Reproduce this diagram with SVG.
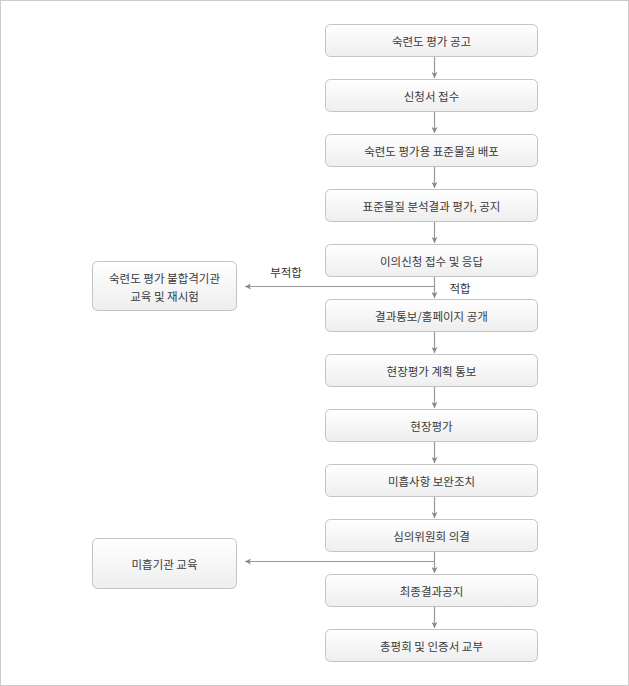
<svg xmlns="http://www.w3.org/2000/svg" width="629" height="686" viewBox="0 0 629 686">
<defs>
<linearGradient id="g" x1="0" y1="0" x2="0" y2="1">
<stop offset="0" stop-color="#ffffff"/>
<stop offset="1" stop-color="#eeeeee"/>
</linearGradient>
<marker id="ah" viewBox="0 0 8 8" refX="8" refY="4" markerWidth="6" markerHeight="6" markerUnits="userSpaceOnUse" orient="auto">
<path d="M0,0 L8,4 L0,8 L2,4 Z" fill="#888"/>
</marker>
<style>
.box{fill:url(#g);stroke:#c4c4c4;stroke-width:1}
.t{font-family:"Noto Sans CJK KR","Noto Sans",sans-serif;font-size:11.5px;fill:#3a3a3a;text-anchor:middle;dominant-baseline:central}
.c{stroke:#999;stroke-width:1.2;fill:none;marker-end:url(#ah)}
.lbl{font-family:"Noto Sans CJK KR","Noto Sans",sans-serif;font-size:11.5px;fill:#333;text-anchor:middle;dominant-baseline:central}
</style>
</defs>
<rect x="0.5" y="0.5" width="628" height="685" fill="#fff" stroke="#cccccc"/>
<g id="connectors">
<line class="c" x1="434.5" y1="57" x2="434.5" y2="78"/>
<line class="c" x1="434.5" y1="112" x2="434.5" y2="133"/>
<line class="c" x1="434.5" y1="167" x2="434.5" y2="188"/>
<line class="c" x1="434.5" y1="222" x2="434.5" y2="243"/>
<line class="c" x1="434.5" y1="277" x2="434.5" y2="298"/>
<line class="c" x1="434.5" y1="286.5" x2="245" y2="286.5"/>
<line class="c" x1="434.5" y1="332" x2="434.5" y2="353"/>
<line class="c" x1="434.5" y1="387" x2="434.5" y2="408"/>
<line class="c" x1="434.5" y1="442" x2="434.5" y2="463"/>
<line class="c" x1="434.5" y1="497" x2="434.5" y2="518"/>
<line class="c" x1="434.5" y1="552" x2="434.5" y2="573"/>
<line class="c" x1="434.5" y1="561.5" x2="245" y2="561.5"/>
<line class="c" x1="434.5" y1="607" x2="434.5" y2="628"/>
<text class="lbl" x="286" y="272">부적합</text>
<text class="lbl" x="460" y="288">적합</text>
</g>
<g id="n1"><rect class="box" x="325.5" y="24.5" width="212" height="32" rx="5"/><text class="t" x="431.5" y="40.5">숙련도 평가 공고</text></g>
<g id="n2"><rect class="box" x="325.5" y="79.5" width="212" height="32" rx="5"/><text class="t" x="431.5" y="95.5">신청서 접수</text></g>
<g id="n3"><rect class="box" x="325.5" y="134.5" width="212" height="32" rx="5"/><text class="t" x="431.5" y="150.5">숙련도 평가용 표준물질 배포</text></g>
<g id="n4"><rect class="box" x="325.5" y="189.5" width="212" height="32" rx="5"/><text class="t" x="431.5" y="205.5">표준물질 분석결과 평가, 공지</text></g>
<g id="n5"><rect class="box" x="325.5" y="244.5" width="212" height="32" rx="5"/><text class="t" x="431.5" y="260.5">이의신청 접수 및 응답</text></g>
<g id="n6"><rect class="box" x="325.5" y="299.5" width="212" height="32" rx="5"/><text class="t" x="431.5" y="315.5">결과통보/홈페이지 공개</text></g>
<g id="n7"><rect class="box" x="325.5" y="354.5" width="212" height="32" rx="5"/><text class="t" x="431.5" y="370.5">현장평가 계획 통보</text></g>
<g id="n8"><rect class="box" x="325.5" y="409.5" width="212" height="32" rx="5"/><text class="t" x="431.5" y="425.5">현장평가</text></g>
<g id="n9"><rect class="box" x="325.5" y="464.5" width="212" height="32" rx="5"/><text class="t" x="431.5" y="480.5">미흡사항 보완조치</text></g>
<g id="n10"><rect class="box" x="325.5" y="519.5" width="212" height="32" rx="5"/><text class="t" x="431.5" y="535.5">심의위원회 의결</text></g>
<g id="n11"><rect class="box" x="325.5" y="574.5" width="212" height="32" rx="5"/><text class="t" x="431.5" y="590.5">최종결과공지</text></g>
<g id="n12"><rect class="box" x="325.5" y="629.5" width="212" height="32" rx="5"/><text class="t" x="431.5" y="645.5">총평회 및 인증서 교부</text></g>
<g id="f1"><rect class="box" x="92.5" y="261.5" width="144" height="49" rx="5"/><text class="t" x="164.5" y="277.5">숙련도 평가 불합격기관</text><text class="t" x="164.5" y="295.5">교육 및 재시험</text></g>
<g id="f2"><rect class="box" x="92.5" y="538.5" width="144" height="50" rx="5"/><text class="t" x="164.5" y="563.5">미흡기관 교육</text></g>
</svg>
